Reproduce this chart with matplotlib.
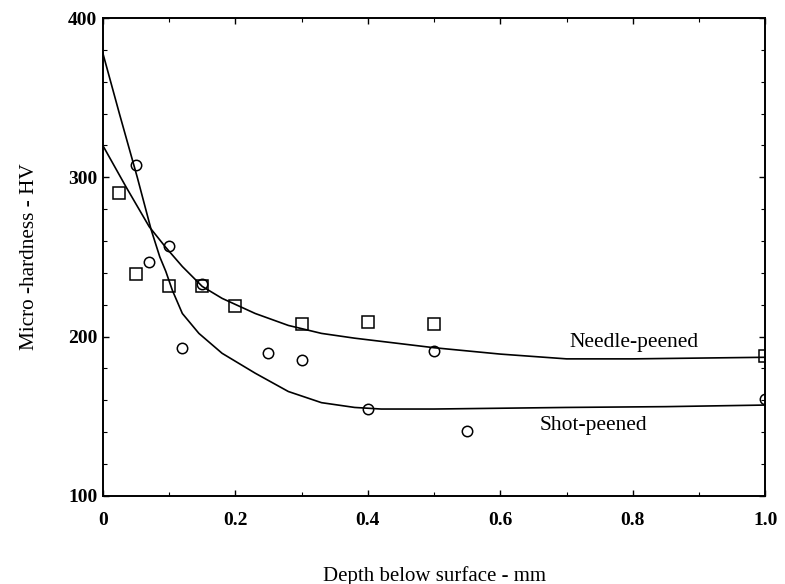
import matplotlib
matplotlib.use("Agg")
import matplotlib.pyplot as plt
from matplotlib.ticker import MultipleLocator

plt.rcParams['font.family'] = ['Liberation Serif', 'DejaVu Serif']

# measured points
circle_x = [0.05, 0.07, 0.10, 0.12, 0.15, 0.25, 0.30, 0.40, 0.50, 0.55, 1.00]
circle_y = [308, 247, 257, 193, 233, 190, 185, 154.5, 191, 141, 161]
square_x = [0.025, 0.05, 0.10, 0.15, 0.20, 0.30, 0.40, 0.50, 1.00]
square_y = [290, 239, 232, 232, 219, 208, 209, 208, 188]

# fitted curves
needle_x = [0, 0.035, 0.07, 0.095, 0.12, 0.15, 0.18, 0.23, 0.28, 0.33, 0.38, 0.42, 0.50, 0.60, 0.70, 0.80, 0.90, 1.00]
needle_y = [320, 294, 269, 256, 244, 231.5, 224, 214.5, 207, 202, 199, 197, 193, 189, 186, 186, 186.5, 187]
shot_x = [0, 0.025, 0.052, 0.073, 0.086, 0.095, 0.105, 0.12, 0.145, 0.18, 0.23, 0.28, 0.33, 0.38, 0.42, 0.50, 0.60, 0.70, 0.85, 1.00]
shot_y = [378, 340, 300, 267, 250, 241, 229, 214.5, 202, 189.5, 177, 165.5, 158.5, 155.5, 154.5, 154.5, 155, 155.5, 156, 157]

x_ticks = [0, 0.2, 0.4, 0.6, 0.8, 1.0]
x_ticklabels = ['0', '0.2', '0.4', '0.6', '0.8', '1.0']
y_ticks = [100, 200, 300, 400]

fig = plt.figure(figsize=(7.85, 5.84), dpi=100)
ax = fig.add_axes([0.131, 0.151, 0.844, 0.818])

ax.plot(needle_x, needle_y, color='black', lw=1.2)
ax.plot(shot_x, shot_y, color='black', lw=1.2)
ax.plot(circle_x, circle_y, 'o', mfc='none', mec='black', ms=7.5, mew=1.1)
ax.plot(square_x, square_y, 's', mfc='none', mec='black', ms=8, mew=1.1)

ax.text(0.705, 196, 'Needle-peened', fontsize=15.5, va='center', ha='left')
ax.text(0.66, 144, 'Shot-peened', fontsize=15.5, va='center', ha='left')

ax.set_xlim(0, 1.0)
ax.set_ylim(100, 400)
ax.set_xticks(x_ticks)
ax.set_xticklabels(x_ticklabels)
ax.set_yticks(y_ticks)
ax.xaxis.set_minor_locator(MultipleLocator(0.1))
ax.yaxis.set_minor_locator(MultipleLocator(20))
ax.tick_params(which='both', direction='in', top=True, right=True, labelsize=14)
ax.tick_params(which='major', length=4, width=1)
ax.tick_params(which='minor', length=3, width=0.8)
ax.tick_params(axis='x', pad=12)
ax.tick_params(axis='y', pad=4)
for lab in ax.get_xticklabels() + ax.get_yticklabels():
    lab.set_fontweight('bold')
for s in ax.spines.values():
    s.set_linewidth(1.4)

ax.set_xlabel('Depth below surface - mm', fontsize=15, labelpad=26)
ax.set_ylabel('Micro -hardness - HV', fontsize=15.3, labelpad=21)

fig.savefig('out.png', dpi=100)
